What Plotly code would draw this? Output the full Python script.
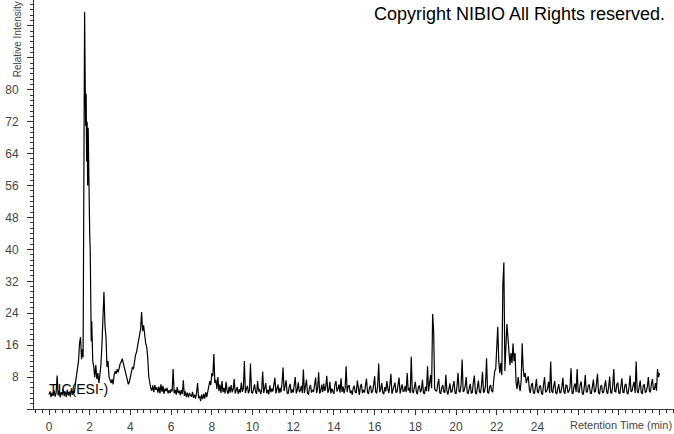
import numpy as np
import plotly.graph_objects as go

# ---- data (relative intensity) ----
seg1a_start, seg1a_step = 0.0, 0.05
seg1a_vals = [
    3.6, 4.4, 3.0, 4.1, 3.3, 4.7, 3.1, 4.0, 8.4, 3.4,
    4.6, 2.9, 4.2, 3.5, 5.0, 3.2, 4.4, 3.0, 4.8, 3.4,
    4.3, 3.1, 5.2, 3.6, 4.5, 4.0, 6.5, 8.0, 10.5, 12.0,
    16.5, 18.0, 12.5,
]

seg1b_start, seg1b_step = 1.625, 0.025
seg1b_vals = [
    14.0, 15.0, 13.0, 44.0, 83.6, 99.5, 84.0, 71.0, 79.0, 62.0,
    72.0, 56.0, 70.5, 55.0, 53.0, 44.0, 40.0, 20.0, 17.0, 22.0,
]

seg1c_start, seg1c_step = 2.15, 0.05
seg1c_vals = [
    12.0, 10.5, 8.0, 11.0, 7.5, 9.0, 6.5,
    8.5, 11.0, 16.0, 22.0, 29.3, 21.0, 18.0, 10.5, 12.0, 8.0,
    7.0, 6.5, 7.5, 6.2, 8.5, 9.5, 8.8, 10.0, 9.2, 10.8,
    11.4, 11.8, 12.6, 11.5, 10.5, 9.5, 8.2, 7.0, 6.2, 6.8,
    8.0, 9.0, 10.5, 10.0, 12.0, 13.5, 14.2, 15.8, 17.0, 18.5,
    20.0, 24.3, 19.5, 21.0, 18.0, 16.5, 15.6, 13.0, 8.2, 6.0,
    5.2,
]

seg2_start, seg2_step = 5.05, 0.05
seg2_vals = [
    4.6, 5.9, 4.2, 6.0, 4.8, 5.4, 4.1, 5.6, 3.9, 6.2,
    4.3, 5.8, 3.8, 5.1, 4.5, 5.3, 3.9, 4.7, 4.0, 5.0,
    4.4, 10.0, 3.9, 4.8, 3.6, 5.5, 4.0, 4.6, 3.5, 4.8,
    3.7, 7.2, 3.3, 4.4, 3.0, 4.1, 2.9, 4.0, 3.4, 3.1,
    4.3, 2.8, 3.6, 2.6, 4.0, 6.5, 2.7, 3.3, 2.0, 3.6,
    2.5, 3.8, 2.6, 4.2, 3.0, 4.6, 5.5, 7.0, 6.0, 9.0,
    8.2, 13.8, 6.5, 7.4, 5.0, 8.0, 4.5, 6.1, 4.0, 7.0,
    4.2, 5.3, 3.9, 6.8, 4.5, 3.8, 5.6, 4.1, 6.0, 4.2,
    5.0, 7.5, 3.9, 4.6, 5.5, 3.8, 4.9, 4.1, 6.6, 4.3,
    5.2, 12.0, 4.0, 5.1, 5.8, 3.9, 4.7, 11.4, 4.2, 3.9,
    5.5, 6.2, 4.3, 3.8, 7.0, 4.4, 5.0, 3.8, 4.6, 9.4,
    4.0, 5.3, 6.5, 3.9, 4.8, 3.7, 5.9, 4.2, 5.1, 4.4,
    6.0, 7.8, 3.9, 4.7, 6.1, 4.0, 5.3, 4.2, 6.4, 10.4,
    4.5, 5.7, 7.2, 4.1, 3.8, 5.5, 6.3, 4.0, 4.9, 4.1,
    5.6, 8.0, 3.9, 4.8, 6.7, 4.2, 4.6, 5.8, 4.0, 9.9,
    4.0, 6.0, 7.4, 3.9, 3.7, 5.4, 6.0, 4.1, 4.8, 4.3,
    5.7, 7.9, 4.0, 5.2, 9.2, 3.9, 4.4, 6.1, 4.2, 6.4,
    4.5, 5.5, 8.3, 4.1, 4.7, 6.8, 3.9, 5.1, 4.4, 3.8,
    6.2, 7.0, 4.4, 5.0, 6.2, 4.1, 7.7, 4.3, 5.6, 3.9,
    5.2, 10.7, 4.2, 5.7, 6.0, 4.0, 4.6, 3.6, 5.3, 5.8,
    4.2, 4.0, 7.1, 4.6, 3.5, 5.6, 6.3, 4.0, 4.8, 4.1,
    6.1, 7.6, 4.2, 3.8, 5.4, 5.9, 4.0, 4.4, 6.0, 8.2,
    4.3, 3.9, 5.8, 11.4, 4.2, 5.0, 6.5, 4.1, 3.7, 5.5,
    4.4, 7.0, 5.1, 4.0, 6.2, 8.8, 3.8, 4.9, 5.6, 6.6,
    4.1, 4.3, 6.0, 7.9, 3.9, 5.2, 6.2, 4.4, 4.5, 5.8,
    4.2, 9.0, 4.6, 5.3, 4.0, 13.1, 4.4, 4.0, 5.7, 6.8,
    4.3, 3.7, 5.5, 5.9, 4.2, 4.8, 7.3, 4.0, 3.8, 5.6,
    4.5, 10.7, 4.4, 6.0, 8.5, 5.2, 23.8, 19.5, 5.0, 4.6,
    4.5, 6.2, 7.5, 4.1, 3.9, 5.4, 6.0, 4.3, 4.1, 8.6,
    4.6, 3.6, 5.5, 6.4, 4.2, 4.3, 5.8, 7.0, 4.0, 3.8,
    5.9, 9.0, 4.4, 4.2, 6.1, 12.4, 4.3, 4.6, 5.7, 8.0,
    4.1, 3.9, 5.2, 6.3, 4.0, 4.1, 6.6, 8.4, 4.2, 3.7,
    5.4, 7.1, 4.3, 4.0, 5.9, 9.3, 4.1, 4.4, 6.0, 12.7,
    4.2, 3.9, 5.5, 6.0, 4.6, 4.2,
]

seg3_start, seg3_step = 21.85, 0.05
seg3_vals = [
    7.0, 9.5, 10.0, 14.0, 20.6, 12.0, 9.0, 11.5, 8.5, 31.0,
    36.7, 9.5, 14.0, 21.3, 18.0, 13.0, 11.0, 14.0, 11.5, 16.4,
    12.0, 14.0, 6.5, 5.0,
]

seg4_start, seg4_step = 23.05, 0.05
seg4_vals = [
    8.0, 6.0, 4.5, 7.0, 16.5, 10.0, 8.0, 9.0, 6.5, 7.5,
    8.2, 5.0, 4.0, 6.0, 6.5, 4.2, 3.8, 5.5, 7.5, 4.3,
    4.1, 5.6, 5.9, 3.9, 3.6, 6.1, 8.0, 4.2, 4.4, 5.3,
    6.8, 4.0, 11.9, 4.5, 4.0, 5.8, 7.0, 4.1, 3.7, 5.2,
    6.2, 4.0, 4.2, 5.5, 7.8, 4.3, 3.8, 6.0, 5.9, 4.1,
    4.5, 5.4, 10.2, 4.0, 3.9, 5.7, 6.4, 4.2, 10.0, 4.4,
    4.1, 6.1, 6.9, 4.0, 3.6, 5.4, 8.5, 4.3, 4.3, 5.9,
    6.1, 4.0, 3.9, 5.6, 7.4, 4.2, 4.4, 6.3, 8.8, 4.1,
    3.7, 5.5, 6.0, 4.0, 4.2, 5.8, 7.2, 4.3, 3.8, 5.6,
    8.1, 4.1, 4.0, 5.9, 10.0, 4.4, 4.3, 6.2, 6.6, 4.0,
    3.9, 5.7, 7.7, 4.2, 4.1, 6.0, 6.3, 4.1, 3.7, 5.5,
    8.4, 4.3, 4.5, 5.9, 6.8, 4.0, 11.9, 4.6, 4.0, 5.6,
    7.1, 4.2, 3.8, 5.8, 6.2, 4.1, 4.4, 5.6, 8.0, 4.5,
    4.2, 6.3, 7.5, 4.8, 5.0, 6.5, 4.6, 10.0, 8.0, 9.0,
]

x_tick_vals = list(range(0, 31, 2))
x_tick_text = [str(v) if v <= 24 else "" for v in x_tick_vals]
y_tick_vals = list(range(0, 97, 8))
y_tick_text = [str(v) if 0 < v <= 80 else "" for v in y_tick_vals]

segments = [
    (seg1a_start, seg1a_step, seg1a_vals),
    (seg1b_start, seg1b_step, seg1b_vals),
    (seg1c_start, seg1c_step, seg1c_vals),
    (seg2_start, seg2_step, seg2_vals),
    (seg3_start, seg3_step, seg3_vals),
    (seg4_start, seg4_step, seg4_vals),
]
times, intens = [], []
for s0, st, vals in segments:
    times.extend(np.round(s0 + st * np.arange(len(vals)), 4).tolist())
    intens.extend(vals)

fig = go.Figure(go.Scatter(x=times, y=intens, mode="lines",
                           line=dict(color="black", width=1.2), hoverinfo="skip"))

axis_col = "#333333"
font_fam = "Liberation Sans, Arial, sans-serif"

fig.update_layout(
    width=674, height=434,
    margin=dict(l=34, r=0, t=0, b=21),
    plot_bgcolor="white", paper_bgcolor="white",
    showlegend=False,
    font=dict(family=font_fam, size=12, color="#444444"),
    xaxis=dict(
        range=[-0.737, 30.71], tickmode="array", tickvals=x_tick_vals, ticktext=x_tick_text,
        ticks="outside", ticklen=5, tickcolor=axis_col, showline=True, linecolor=axis_col,
        linewidth=1, showgrid=False, zeroline=False, ticklabelstandoff=2,
        tickfont=dict(size=12, color="#444444"),
        minor=dict(dtick=1/3, tick0=0, ticklen=3, ticks="outside", tickcolor=axis_col, showgrid=False),
    ),
    yaxis=dict(
        range=[0, 102.5], tickmode="array", tickvals=y_tick_vals, ticktext=y_tick_text,
        ticks="outside", ticklen=6, tickcolor=axis_col, showline=True, linecolor=axis_col,
        linewidth=1, showgrid=False, zeroline=False, ticklabelstandoff=6,
        tickfont=dict(size=12, color="#444444"),
        minor=dict(dtick=4/3, tick0=0, ticklen=3, ticks="outside", tickcolor=axis_col, showgrid=False),
    ),
    annotations=[
        dict(text="Copyright NIBIO All Rights reserved.", xref="paper", yref="paper",
             x=0.989, y=0.966, xanchor="right", yanchor="middle", showarrow=False,
             font=dict(size=18, color="black", family=font_fam)),
        dict(text="Retention Time (min)", xref="paper", yref="paper",
             x=1.0, y=-0.04, xanchor="right", yanchor="middle", showarrow=False,
             font=dict(size=11, color="#444444", family=font_fam)),
        dict(text="Relative Intensity", xref="paper", yref="paper", textangle=-90,
             x=-0.0266, y=0.806, xanchor="center", yanchor="bottom", showarrow=False,
             font=dict(size=10, color="#444444", family=font_fam)),
        dict(text="TIC(ESI-)", xref="paper", yref="paper",
             x=0.0203, y=0.0484, xanchor="left", yanchor="middle", showarrow=False,
             font=dict(size=14, color="black", family=font_fam)),
    ],
)

fig.write_html(
    "out.html",
    config={"displayModeBar": False},
    post_script="document.body.style.margin='0';document.body.style.overflow='hidden';",
)
